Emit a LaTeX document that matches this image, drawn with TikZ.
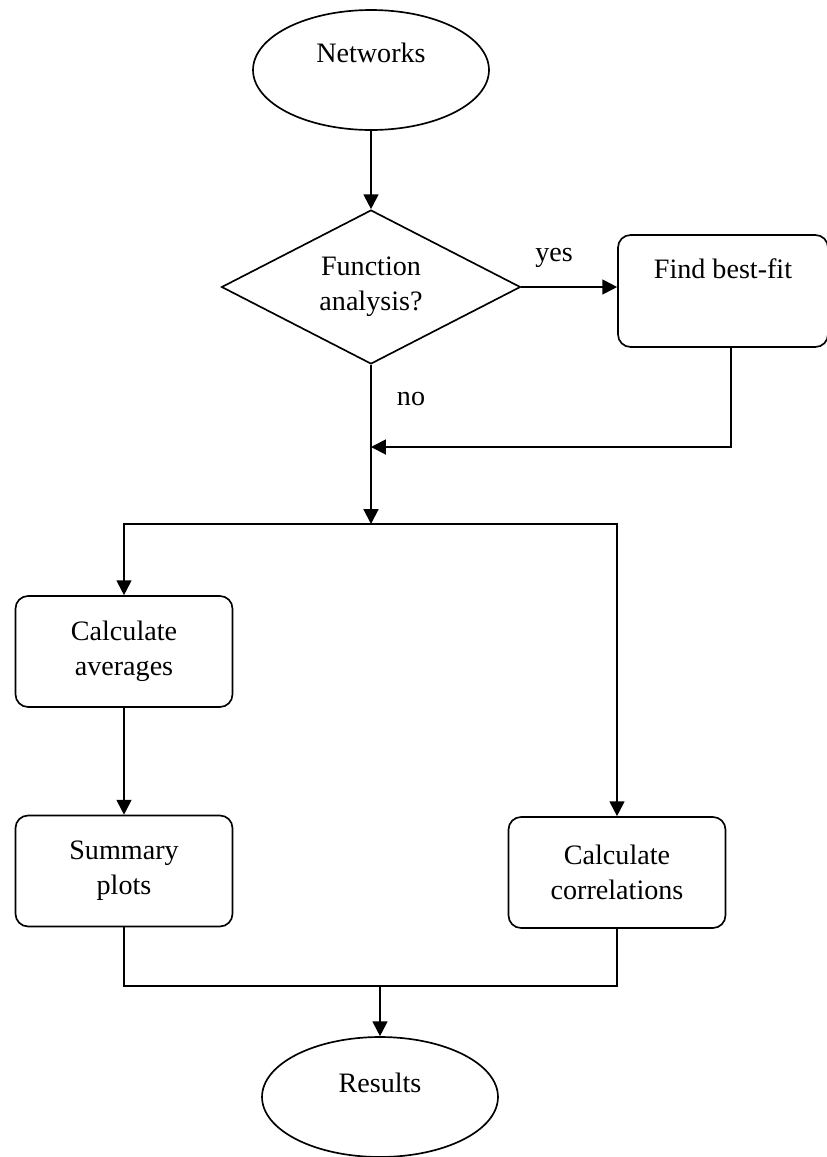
\documentclass[tikz,border=0pt]{standalone}
\usepackage{fontspec}
\setmainfont{Liberation Serif}
\usetikzlibrary{shapes.geometric,arrows.meta}

\tikzset{
  terminal/.style={ellipse, draw, line width=0.95pt, minimum width=4.72cm, minimum height=2.4cm, inner sep=0pt, text height=0.4cm},
  process/.style={rectangle, rounded corners=0.25cm, draw, line width=0.95pt, minimum width=4.34cm, minimum height=2.22cm, align=center},
  decision/.style={diamond, aspect=2, draw, line width=0.95pt, minimum width=5.98cm, minimum height=3.08cm, inner sep=0pt, align=center},
  flow/.style={-{Triangle[length=8.5pt,width=8.5pt]}, line width=1.15pt},
  mergeline/.style={line width=0.85pt},
}

\begin{document}
\begin{tikzpicture}[x=0.02cm, y=-0.02cm, font=\fontsize{16}{20}\selectfont]
\useasboundingbox (0,0) rectangle (827,1157);
% shapes
\node[terminal, text depth=0.72cm] (networks) at (371,70) {Networks};
\node[decision] (analysis) at (371,287) {Function\\analysis?};
\node[process, minimum width=4.2cm, minimum height=2.24cm, text height=0.4cm, text depth=0.92cm] (bestfit) at (723,291) {Find best-fit};
\node[process] (averages) at (124,651.5) {Calculate\\averages};
\node[process] (summary) at (124,871) {Summary\\plots};
\node[process] (correlations) at (617,872.5) {Calculate\\correlations};
\node[terminal, text depth=0.6cm] (results) at (380,1097) {Results};
% branch labels
\node (yes) at (554,258) {yes};
\node (no) at (411,399) {no};
% corner points of the connectors
\coordinate (back) at (371,447);
\coordinate (split) at (371,524);
\coordinate (gather) at (380,986);
% connectors
\draw[flow] (networks) -- (analysis);
\draw[flow] (analysis.east) -- (analysis.east -| bestfit.west);
\draw[flow] ([xshift=0.16cm]bestfit.south) |- (back);
\draw[flow] (analysis.south) -- (split);
\draw[flow] (split) -| (averages.north);
\draw[flow] (split) -| (correlations.north);
\draw[flow] (averages) -- (summary);
\draw[mergeline] (summary.south) |- (gather) -| (correlations.south);
\draw[flow] (gather) -- (results);
\end{tikzpicture}
\end{document}
